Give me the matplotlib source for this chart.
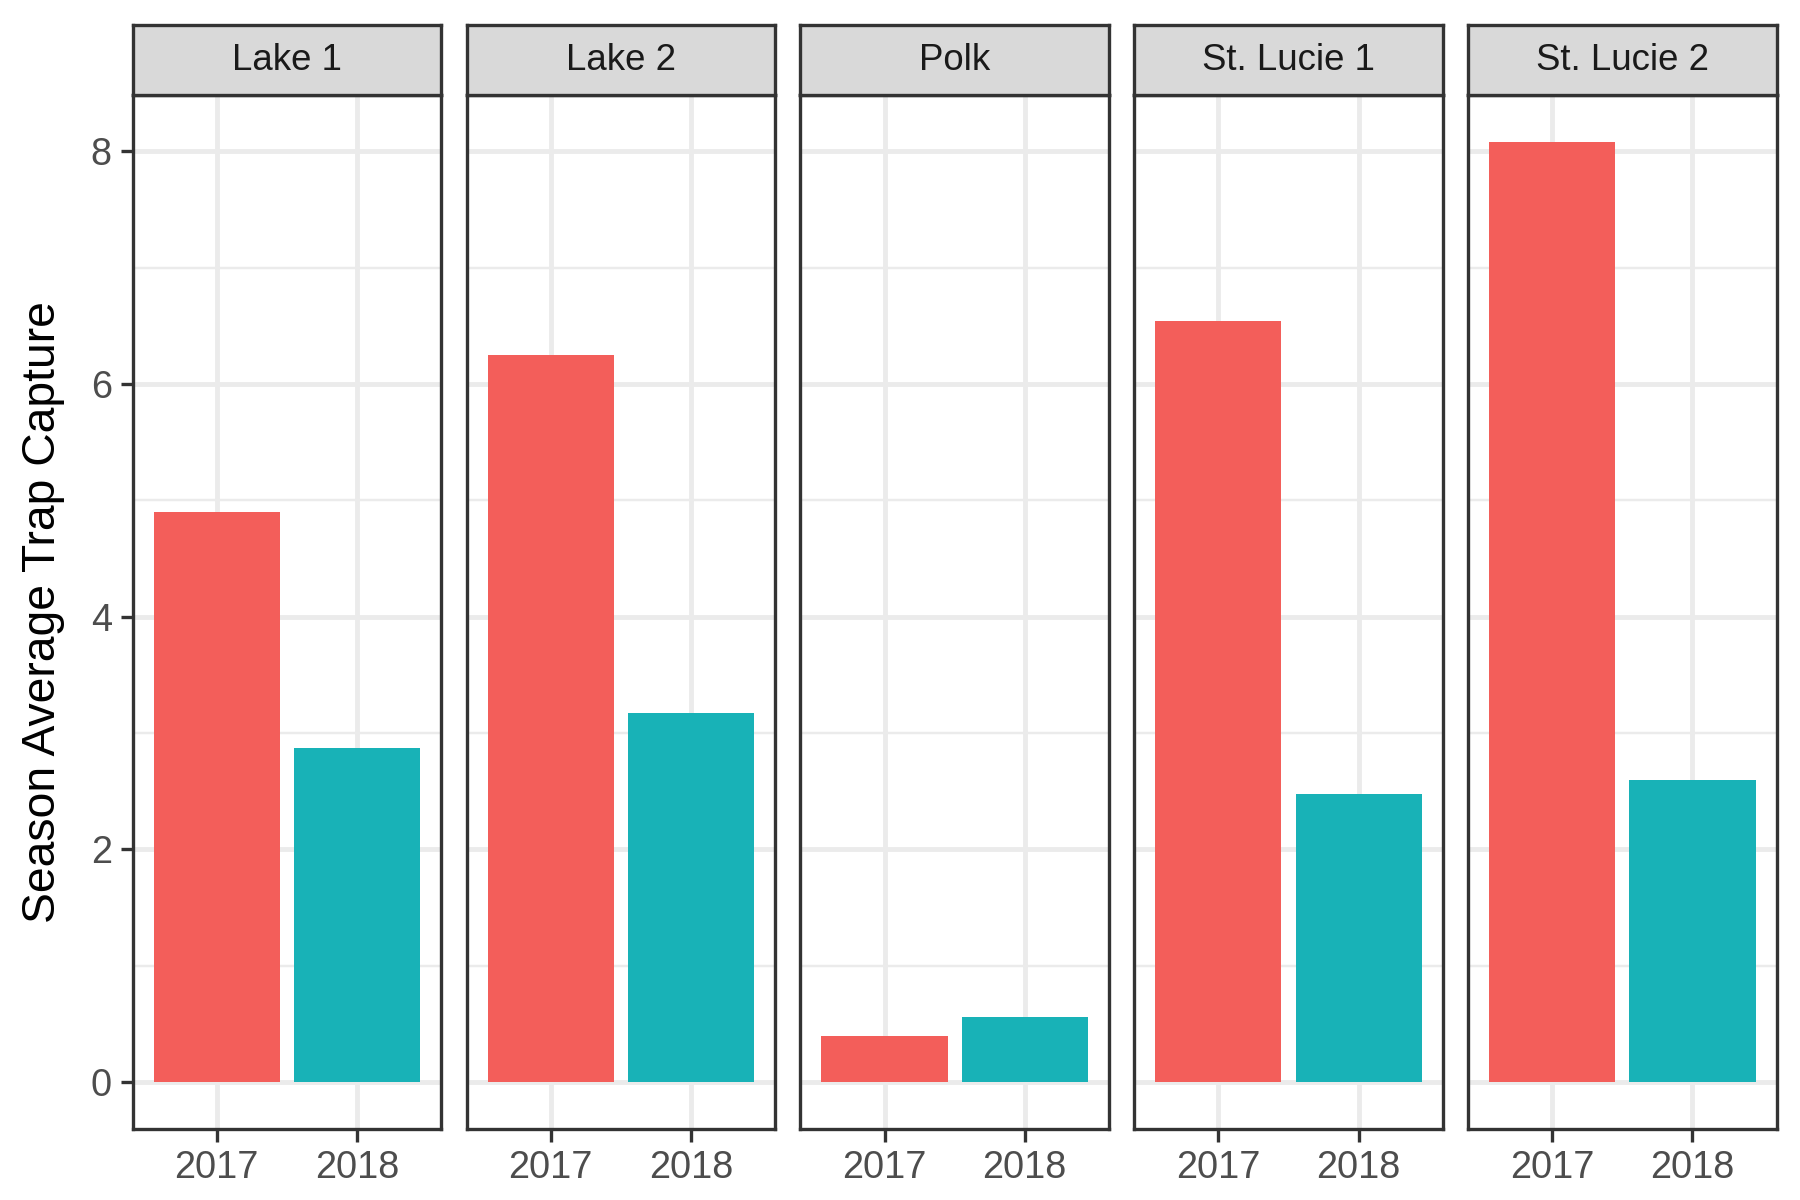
import matplotlib
matplotlib.use("Agg")
import matplotlib.pyplot as plt

plt.rcParams['font.family'] = ['Liberation Sans', 'DejaVu Sans']

sites = ["Lake 1", "Lake 2", "Polk", "St. Lucie 1", "St. Lucie 2"]
years = ["2017", "2018"]
capture_2017 = [4.90, 6.25, 0.40, 6.54, 8.08]
capture_2018 = [2.87, 3.17, 0.56, 2.48, 2.60]
year_colors = ["#F35E5A", "#18B2B7"]

fig = plt.figure(figsize=(6, 4), dpi=300)

left, right = 0.0737, 0.987
bottom, top = 0.059, 0.921
strip_top = 0.979
gap = 0.0141
w = (right - left - 4 * gap) / 5

ymax = max(capture_2017 + capture_2018)
pad = ymax * 0.05

for i, site in enumerate(sites):
    x0 = left + i * (w + gap)
    ax = fig.add_axes([x0, bottom, w, top - bottom])
    vals = [capture_2017[i], capture_2018[i]]
    ax.bar([1, 2], vals, width=0.9, color=year_colors, zorder=3)
    ax.set_xlim(0.4, 2.6)
    ax.set_ylim(-pad, ymax + pad)
    ax.set_xticks([1, 2])
    ax.set_xticklabels(years)
    ax.set_yticks([0, 2, 4, 6, 8])
    ax.set_yticks([1, 3, 5, 7], minor=True)
    ax.grid(which='major', color='#EBEBEB', linewidth=1.16, zorder=0)
    ax.grid(which='minor', axis='y', color='#EBEBEB', linewidth=0.58, zorder=0)
    ax.set_axisbelow(True)
    for s in ax.spines.values():
        s.set_color('#333333')
        s.set_linewidth(0.8)
        s.set_zorder(5)
    ax.tick_params(which='major', length=3, width=0.8, color='#333333',
                   labelsize=9.1, labelcolor='#4D4D4D', pad=2.0)
    ax.tick_params(which='minor', length=0)
    if i > 0:
        ax.tick_params(axis='y', which='both', left=False, labelleft=False)

    sax = fig.add_axes([x0, top, w, strip_top - top])
    sax.set_facecolor('#D9D9D9')
    sax.set_xticks([])
    sax.set_yticks([])
    for s in sax.spines.values():
        s.set_color('#333333')
        s.set_linewidth(0.8)
    sax.text(0.5, 0.5, site, ha='center', va='center', fontsize=8.8,
             color='#1A1A1A', transform=sax.transAxes)

fig.text(0.0237, (bottom + top) / 2, "Season Average Trap Capture",
         rotation=90, ha='center', va='center', fontsize=11.1, color='black')

fig.savefig("out.png", dpi=300)
